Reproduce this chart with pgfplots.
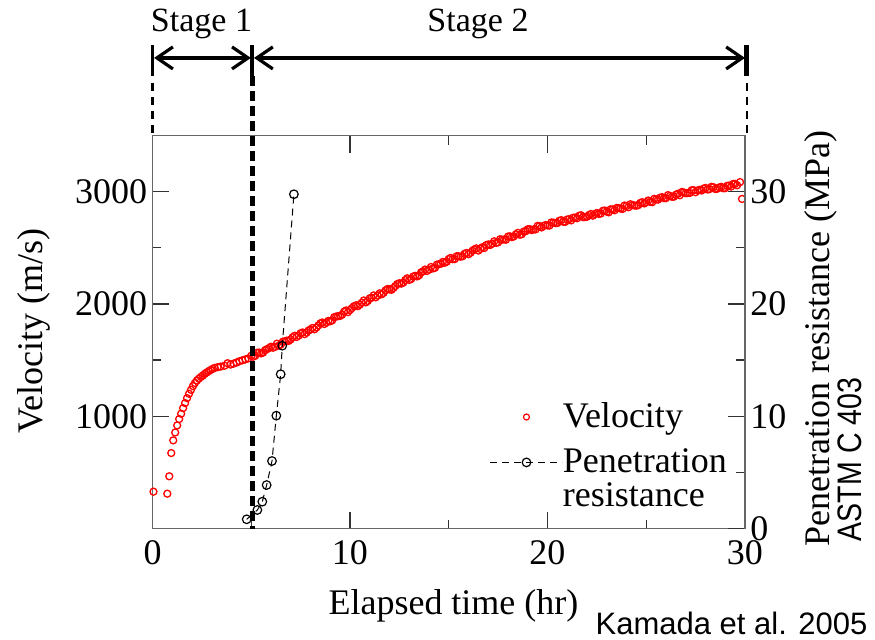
\documentclass[border=0pt]{standalone}
\usepackage{fontspec}
\setmainfont{Liberation Serif}
\newfontfamily\arialfont{Liberation Sans}
\usepackage{pgfplots}
\usepackage{pgfplotstable}
\pgfplotsset{compat=1.18}
\usetikzlibrary{arrows.meta}

% Ultrasonic pulse velocity during setting (m/s)
\pgfplotstableread{
t v
0.05 328
0.75 310
0.85 465
0.95 672
1.05 785
1.15 855
1.25 918
1.35 975
1.45 1022
1.55 1072
1.65 1117
1.75 1161
1.85 1200
1.95 1235
2.05 1268
2.15 1296
2.25 1318
2.35 1335
2.45 1350
2.55 1362
2.65 1378
2.75 1390
2.85 1402
2.95 1412
3.05 1422
3.15 1430
3.30 1437
3.45 1442
3.65 1450
3.80 1472
3.95 1460
4.10 1468
4.25 1478
4.40 1490
4.55 1498
4.70 1506
4.85 1515
5.0 1538
5.1 1530
5.2 1538
5.3 1565
5.4 1567
5.5 1559
5.6 1567
5.7 1588
5.8 1598
5.9 1607
6.0 1619
6.1 1610
6.2 1617
6.3 1646
6.4 1629
6.5 1639
6.6 1664
6.7 1667
6.8 1673
6.9 1671
7.0 1684
7.1 1704
7.2 1717
7.3 1706
7.4 1717
7.5 1739
7.6 1746
7.7 1731
7.8 1744
7.9 1763
8.0 1772
8.1 1786
8.2 1774
8.3 1790
8.4 1809
8.5 1827
8.6 1835
8.7 1821
8.8 1833
8.9 1849
9.0 1846
9.1 1854
9.2 1882
9.3 1888
9.4 1891
9.5 1893
9.6 1904
9.7 1931
9.8 1942
9.9 1927
10.0 1947
10.1 1963
10.2 1979
10.3 1988
10.4 1980
10.5 1994
10.6 2011
10.7 2031
10.8 2014
10.9 2026
11.0 2050
11.1 2055
11.2 2076
11.3 2059
11.4 2074
11.5 2094
11.6 2086
11.7 2098
11.8 2121
11.9 2133
12.0 2130
12.1 2126
12.2 2142
12.3 2160
12.4 2178
12.5 2184
12.6 2181
12.7 2190
12.8 2213
12.9 2228
13.0 2214
13.1 2222
13.2 2244
13.3 2250
13.4 2245
13.5 2255
13.6 2281
13.7 2290
13.8 2306
13.9 2294
14.0 2305
14.1 2329
14.2 2316
14.3 2321
14.4 2350
14.5 2353
14.6 2358
14.7 2374
14.8 2367
14.9 2376
15.0 2400
15.1 2410
15.2 2399
15.3 2399
15.4 2425
15.5 2424
15.6 2421
15.7 2424
15.8 2446
15.9 2454
16.0 2443
16.1 2455
16.2 2474
16.3 2486
16.4 2495
16.5 2475
16.6 2490
16.7 2505
16.8 2498
16.9 2524
17.0 2530
17.1 2525
17.2 2536
17.3 2558
17.4 2544
17.5 2548
17.6 2576
17.7 2572
17.8 2574
17.9 2572
18.0 2600
18.1 2602
18.2 2595
18.3 2602
18.4 2620
18.5 2633
18.6 2616
18.7 2621
18.8 2645
18.9 2648
19.0 2665
19.1 2666
19.2 2658
19.3 2664
19.4 2664
19.5 2695
19.6 2693
19.7 2681
19.8 2695
19.9 2702
20.0 2699
20.1 2698
20.2 2726
20.3 2724
20.4 2720
20.5 2720
20.6 2741
20.7 2746
20.8 2732
20.9 2731
21.0 2752
21.1 2755
21.2 2744
21.3 2768
21.4 2769
21.5 2763
21.6 2785
21.7 2790
21.8 2773
21.9 2773
22.0 2776
22.1 2792
22.2 2801
22.3 2786
22.4 2800
22.5 2810
22.6 2802
22.7 2805
22.8 2829
22.9 2832
23.0 2822
23.1 2816
23.2 2843
23.3 2841
23.4 2834
23.5 2855
23.6 2854
23.7 2850
23.8 2846
23.9 2877
24.0 2872
24.1 2861
24.2 2888
24.3 2880
24.4 2877
24.5 2875
24.6 2880
24.7 2900
24.8 2906
24.9 2895
25.0 2906
25.1 2921
25.2 2909
25.3 2906
25.4 2936
25.5 2931
25.6 2929
25.7 2946
25.8 2951
25.9 2942
26.0 2942
26.1 2969
26.2 2962
26.3 2954
26.4 2955
26.5 2973
26.6 2981
26.7 2968
26.8 2997
26.9 2993
27.0 2986
27.1 2987
27.2 2988
27.3 3012
27.4 3013
27.5 2995
27.6 3011
27.7 3016
27.8 3010
27.9 3027
28.0 3033
28.1 3019
28.2 3022
28.3 3043
28.4 3040
28.5 3023
28.6 3026
28.7 3038
28.8 3043
28.9 3030
29.0 3031
29.1 3052
29.2 3055
29.3 3045
29.4 3069
29.5 3069
29.6 3057
29.75 3085
29.85 2935
}\velocitydata

% Penetration resistance, ASTM C 403 (MPa)
\pgfplotstableread{
t p
4.77 0.82
5.31 1.65
5.56 2.39
5.78 3.87
6.05 6.01
6.27 10.05
6.49 13.74
6.57 16.28
7.16 29.77
}\penetrationdata

\pgfplotsset{
  wide legend/.style={legend image code/.code={%
    \draw[mark repeat=2,mark phase=2,##1] plot coordinates {(0pt,0pt) (18pt,0pt) (36pt,0pt)};}},
  common frame/.style={
    at={(76.25pt,55.25pt)}, anchor=south west,
    scale only axis, width=296.25pt, height=196.5pt,
    xmin=0, xmax=30,
    clip=false,
    tick align=inside,
    major tick length=8.5pt,
    minor tick length=4.5pt,
    minor tick num=1,
    axis line style={black!60, line width=0.8pt},
    every tick/.style={black!80, line width=0.7pt},
    tick label style={font=\fontsize{18}{20}\selectfont},
    label style={font=\fontsize{18}{20}\selectfont},
    /pgf/number format/assume math mode=true,
    /pgf/number format/1000 sep={},
  },
}

\begin{document}
\begin{tikzpicture}
\path[use as bounding box] (0pt,0pt) rectangle (437.5pt,319.5pt);

% Left axis: velocity
\begin{axis}[
  common frame,
  ymin=0, ymax=3500,
  xtick={0,10,20,30},
  ytick={1000,2000,3000},
  ytick pos=left,
  xticklabel style={inner sep=6pt},
  yticklabel style={inner sep=2.5pt},
  xlabel={Elapsed time (hr)},
  xlabel style={at={(axis description cs:0.508,-0.2176)}, anchor=base},
  ylabel={Velocity (m/s)},
  ylabel style={at={(axis description cs:-0.1865,0.5025)}, anchor=base},
]
\addplot[only marks, mark=o, color=red, mark size=1.75pt,
  mark options={line width=0.65pt}] table[x=t, y=v] {\velocitydata};
\end{axis}

% Right axis: penetration resistance
\begin{axis}[
  common frame,
  ymin=0, ymax=35,
  hide x axis,
  axis y line*=right,
  ytick={0,10,20,30},
  yticklabel style={inner sep=2.5pt},
  ylabel={Penetration resistance (MPa)},
  ylabel style={at={(axis description cs:1.1418,0.4835)}, anchor=base},
  legend style={
    at={(axis description cs:0.5696,0.3193)}, anchor=north west,
    draw=none, fill=none, inner sep=0pt, outer sep=0pt,
    row sep=9pt,
    nodes={inner sep=0pt},
    font=\fontsize{18}{16}\selectfont,
    /tikz/every even column/.append style={column sep=1pt},
  },
  legend cell align=left,
]
\addlegendimage{only marks, mark=o, color=red, mark size=1.5pt,
  mark options={line width=0.6pt}, wide legend}
\addlegendentry{Velocity}
\addplot[black, line width=0.5pt, dash pattern=on 3.5pt off 2.5pt,
  mark=o, mark size=2.15pt, mark options={solid, line width=0.6pt}, wide legend]
  table[x=t, y=p] {\penetrationdata};
\addlegendentry{\begin{tabular}[t]{@{}l@{}}Penetration\\resistance\end{tabular}}

% Stage markers above the frame
\draw[black, line width=2.2pt, dash pattern=on 5pt off 2.5pt]
  (axis cs:5.06,40.31) -- (axis cs:5.06,0);
\draw[black, line width=2pt] (axis cs:5.06,43.07) -- (axis cs:5.06,40.31);
\draw[black, line width=1.5pt] (axis cs:0,43.07) -- (axis cs:0,40.31);
\draw[black, line width=2.5pt] (axis cs:30.1,43.07) -- (axis cs:30.1,40.31);
\draw[black, line width=1.2pt, dash pattern=on 4pt off 3pt]
  (axis cs:0,39.69) -- (axis cs:0,35.23);
\draw[black, line width=1.2pt, dash pattern=on 4pt off 3pt]
  (axis cs:30.1,39.69) -- (axis cs:30.1,35.23);
\draw[black, line width=1.6pt,
  {Straight Barb[length=8pt,width=11pt,line width=1.6pt]}-{Straight Barb[length=8pt,width=11pt,line width=1.6pt]}]
  (axis cs:0.08,41.91) -- (axis cs:4.98,41.91);
\draw[black, line width=1.6pt,
  {Straight Barb[length=8pt,width=11pt,line width=1.6pt]}-{Straight Barb[length=8pt,width=11pt,line width=1.6pt]}]
  (axis cs:5.14,41.91) -- (axis cs:30.0,41.91);
\node[anchor=base, font=\fontsize{17}{19}\selectfont] at (axis cs:2.48,44.23) {Stage 1};
\node[anchor=base, font=\fontsize{17}{19}\selectfont] at (axis cs:16.48,44.23) {Stage 2};

% Annotations
\node[anchor=base, rotate=90, font=\arialfont\fontsize{17}{19}\selectfont]
  at (axis description cs:1.1966,0.1756) {\scalebox{0.84}[1]{ASTM C 403}};
\node[anchor=base west, font=\arialfont\fontsize{15.5}{17}\selectfont]
  at (axis description cs:0.736,-0.271) {Kamada et al. 2005};
\end{axis}
\end{tikzpicture}
\end{document}
